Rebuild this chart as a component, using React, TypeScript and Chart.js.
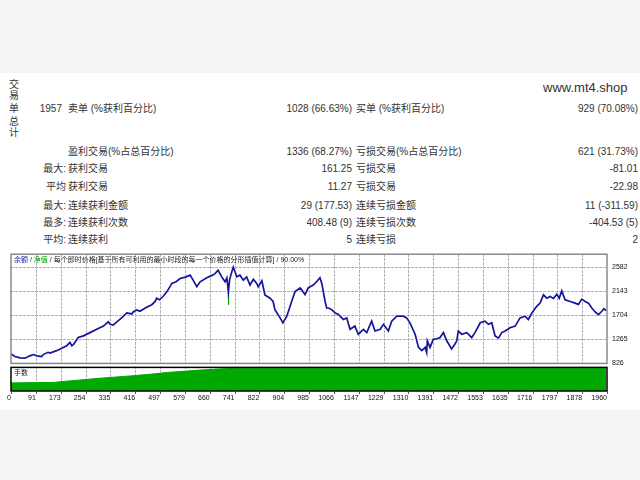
import React, { useEffect, useRef } from 'react';
import { Chart, registerables } from 'chart.js';

Chart.register(...registerables);

// ---------- summary table ----------
const sideTitle = ['交', '易', '单', '总', '计'];
const totalTrades = '1957';
const rowLabelsA = ['', '', '最大:', '平均', '最大:', '最多:', '平均:'];
const rowLabelsB = ['卖单 (%获利百分比)', '盈利交易(%占总百分比)', '获利交易', '获利交易', '连续获利金额', '连续获利次数', '连续获利'];
const rowValuesC = ['1028 (66.63%)', '1336 (68.27%)', '161.25', '11.27', '29 (177.53)', '408.48 (9)', '5'];
const rowLabelsD = ['买单 (%获利百分比)', '亏损交易(%占总百分比)', '亏损交易', '亏损交易', '连续亏损金额', '连续亏损次数', '连续亏损'];
const rowValuesE = ['929 (70.08%)', '621 (31.73%)', '-81.01', '-22.98', '11 (-311.59)', '-404.53 (5)', '2'];
const siteText = 'www.mt4.shop';
const chartTitleParts = ['余额', ' / ', '净值', ' / 每个即时价格[基于所有可利用的最小时段的每一个价格的分形插值计算] / 90.00%'];
const lotPanelLabel = '手数';

// ---------- chart data ----------
const tradeIdx = [0,13,30,46,62,73,85,101,106,122,
  128,150,167,183,194,200,205,221,238,260,
  282,304,320,326,336,348,364,381,397,402,
  413,424,446,463,474,479,488,500,513,529,
  543,556,576,589,599,611,622,644,661,671,
  681,693,704,710,715,719,724,731,737,742,
  753,764,775,786,797,808,813,825,835,852,
  862,868,885,894,907,923,934,951,967,978,
  994,1005,1016,1022,1033,1038,1044,1055,1066,1076,
  1082,1093,1104,1115,1131,1142,1159,1170,1186,1197,
  1214,1225,1241,1252,1269,1290,1301,1312,1329,1340,
  1351,1362,1367,1369,1378,1389,1400,1411,1422,1433,
  1449,1460,1466,1471,1482,1499,1515,1526,1543,1559,
  1570,1581,1592,1603,1614,1625,1641,1658,1674,1691,
  1701,1713,1729,1740,1751,1762,1773,1784,1795,1803,
  1811,1822,1839,1855,1866,1877,1888,1899,1910,1921,
  1932,1943,1950,1957];
const balance = [1000,951,928,921,964,987,964,951,987,1028,
  1014,1058,1100,1148,1207,1148,1166,1296,1327,1386,
  1446,1505,1582,1536,1523,1582,1654,1743,1725,1761,
  1797,1774,1845,1893,1952,2011,1983,2042,2131,2280,
  2310,2369,2399,2430,2340,2221,2310,2382,2426,2458,
  2519,2399,2310,2382,2131,2346,2453,2578,2489,2399,
  2430,2340,2399,2251,2355,2280,2221,2328,2072,2011,
  1952,1804,1654,1564,1684,1952,2131,2197,2078,2203,
  2251,2310,2382,2280,1952,1833,1833,1804,1743,1720,
  1684,1625,1654,1446,1505,1357,1446,1386,1595,1416,
  1446,1536,1416,1595,1684,1684,1654,1564,1357,1117,
  1058,1117,1023,1237,1117,1268,1273,1296,1386,1237,
  1089,1178,1237,1416,1357,1386,1296,1386,1564,1595,
  1536,1564,1327,1286,1386,1416,1475,1505,1654,1684,
  1625,1743,1863,1922,2072,2011,2042,2006,2083,2011,
  2144,1983,1952,1922,1899,1994,1952,1922,1833,1761,
  1715,1774,1822,1786];
const equityIdx = [714, 715, 716];
const equity = [2200, 1890, 2200];
const lotIdx = [0, 140, 183, 238, 293, 348, 401, 457, 512, 566, 622, 674, 730, 1957];
const lots = [0.33, 0.35, 0.40, 0.46, 0.52, 0.57, 0.62, 0.68, 0.75, 0.80, 0.85, 0.89, 0.92, 0.92];
const xTickLabels = ['0','91','173','254','335','416','497','579','660','741','822','904','985','1066','1147','1229','1310','1391','1472','1553','1635','1716','1797','1878','1960'];
const yTickValues = [826, 1265, 1704, 2143, 2582];
const X_MAX = 1960;
const Y_MIN = 772;
const Y_MAX = 2811;

const FONT = "'Liberation Sans', 'Noto Sans CJK SC', sans-serif";
const GRID = '#b0b0b0';

function BalanceChart() {
  const ref = useRef<HTMLCanvasElement | null>(null);
  useEffect(() => {
    const canvas = ref.current;
    if (!canvas) return;
    const step = X_MAX / (xTickLabels.length - 1);
    const drawGrid = (chart: any) => {
      const ctx = chart.ctx;
      const ca = chart.chartArea;
      const xs = chart.scales.x;
      const ys = chart.scales.y;
      ctx.save();
      ctx.fillStyle = GRID;
      const top = Math.round(ca.top);
      const bottom = Math.round(ca.bottom);
      const left = Math.round(ca.left);
      const right = Math.round(ca.right);
      for (let i = 1; i < xTickLabels.length - 1; i++) {
        const px = Math.round(xs.getPixelForValue(i * step));
        for (let y = top; y < bottom; y += 4) ctx.fillRect(px, y, 1, 3);
      }
      for (let i = 1; i < yTickValues.length; i++) {
        const py = Math.round(ys.getPixelForValue(yTickValues[i]));
        for (let x = left; x < right; x += 4) ctx.fillRect(x, py, 3, 1);
      }
      ctx.restore();
    };
    const gridPlugin = {
      id: 'dashGrid',
      beforeDraw(chart: any) {
        const ctx = chart.ctx;
        ctx.save();
        ctx.fillStyle = '#ffffff';
        ctx.fillRect(0, 0, chart.width, chart.height);
        ctx.restore();
      },
      afterDraw(chart: any) {
        const ctx = chart.ctx;
        const ca = chart.chartArea;
        const xs = chart.scales.x;
        const ys = chart.scales.y;
        const y2 = chart.scales.y2;
        const mainBottom = ys.getPixelForValue(yTickValues[0]);
        // dashed grid drawn under the datasets by using destination-over
        ctx.save();
        ctx.globalCompositeOperation = 'darken';
        drawGrid(chart);
        ctx.restore();
        ctx.save();
        ctx.fillStyle = '#ffffff';
        ctx.fillRect(ca.left, mainBottom, ca.right - ca.left, y2.top - mainBottom);
        ctx.strokeStyle = '#8a8a8a';
        ctx.lineWidth = 1.5;
        ctx.strokeRect(ca.left, ca.top, ca.right - ca.left, mainBottom - ca.top);
        ctx.strokeStyle = '#000000';
        ctx.lineWidth = 1.5;
        ctx.strokeRect(ca.left, y2.top + 1, ca.right - ca.left, ca.bottom - y2.top - 1);
        ctx.fillStyle = '#555555';
        for (let i = 0; i < xTickLabels.length; i++) {
          const px = Math.round(xs.getPixelForValue(i * step));
          ctx.fillRect(px, ca.bottom, 1, 3);
        }
        ctx.restore();
      },
    };
    const chart = new Chart(canvas, {
      type: 'line',
      data: {
        datasets: [
          {
            label: '余额',
            data: tradeIdx.map((x, i) => ({ x, y: balance[i] })),
            borderColor: '#14149c',
            borderWidth: 1.7,
            pointRadius: 0,
            tension: 0,
            yAxisID: 'y',
          },
          {
            label: '净值',
            data: equityIdx.map((x, i) => ({ x, y: equity[i] })),
            borderColor: '#00b000',
            borderWidth: 1.2,
            pointRadius: 0,
            yAxisID: 'y',
          },
          {
            label: '手数',
            data: lotIdx.map((x, i) => ({ x, y: lots[i] })),
            borderColor: '#00a800',
            backgroundColor: '#00a800',
            borderWidth: 1,
            pointRadius: 0,
            fill: 'origin',
            yAxisID: 'y2',
          },
        ],
      },
      options: {
        animation: false,
        responsive: false,
        maintainAspectRatio: false,
        layout: { padding: { top: 7, left: 11, right: 0, bottom: 0 } },
        plugins: { legend: { display: false }, tooltip: { enabled: false }, title: { display: false } },
        scales: {
          x: {
            type: 'linear',
            min: 0,
            max: X_MAX,
            position: 'bottom',
            afterBuildTicks: (s: any) => {
              s.ticks = xTickLabels.map((_, i) => ({ value: i * step }));
            },
            afterFit: (s: any) => { s.height = 19; },
            ticks: {
              callback: (_v: any, i: number) => xTickLabels[i],
              align: 'end',
              autoSkip: false,
              maxRotation: 0,
              padding: 0,
              color: '#111',
              font: { size: 7, family: FONT },
            },
            grid: { display: false, drawTicks: true, tickLength: 3 },
            border: { display: false },
          },
          y: {
            type: 'linear',
            position: 'right',
            stack: 'v',
            stackWeight: 114,
            min: Y_MIN,
            max: Y_MAX,
            afterBuildTicks: (s: any) => { s.ticks = yTickValues.map((v) => ({ value: v })); },
            afterFit: (s: any) => { s.width = 33; },
            ticks: { padding: 5, color: '#111', font: { size: 7, family: FONT }, callback: (v: any) => String(v) },
            grid: { display: false, drawTicks: false },
            border: { display: false },
          },
          y2: {
            type: 'linear',
            position: 'right',
            stack: 'v',
            stackWeight: 25,
            min: 0,
            max: 1,
            afterFit: (s: any) => { s.width = 33; },
            ticks: { display: false },
            grid: { display: false, drawTicks: false },
            border: { display: false },
          },
        },
      } as any,
      plugins: [gridPlugin],
    });
    return () => chart.destroy();
  }, []);
  return <canvas ref={ref} width={640} height={165} style={{ position: 'absolute', left: 0, top: 245, width: 640, height: 165 }} />;
}

const rowY = [109, 152, 169, 187, 206, 223, 240];
const sideY = [85, 96, 109, 122, 133];

function T({ x, y, right, children, size = 10, color = '#333' }: any) {
  const style: any = {
    position: 'absolute',
    top: y - 7,
    lineHeight: '14px',
    fontSize: size,
    fontFamily: FONT,
    color,
    whiteSpace: 'nowrap',
  };
  if (right !== undefined) {
    style.right = 640 - right;
    style.textAlign = 'right';
  } else {
    style.left = x;
  }
  return <div style={style}>{children}</div>;
}

export default function App() {
  return (
    <div style={{ position: 'fixed', left: 0, top: 0, width: 640, height: 480, background: '#f3f4f6', overflow: 'hidden' }}>
      <div style={{ position: 'absolute', left: 0, top: 73, width: 640, height: 333, background: '#ffffff' }} />
      {sideTitle.map((c, i) => (
        <T key={'s' + i} x={9} y={sideY[i]}>{c}</T>
      ))}
      <T right={62} y={rowY[0]}>{totalTrades}</T>
      <div style={{ position: 'absolute', left: 543, top: 80, fontSize: 13, lineHeight: '16px', fontFamily: FONT, color: '#333' }}>{siteText}</div>
      {rowY.map((y, i) => (
        <React.Fragment key={'r' + i}>
          {rowLabelsA[i] ? <T right={66} y={y}>{rowLabelsA[i]}</T> : null}
          <T x={68} y={y}>{rowLabelsB[i]}</T>
          <T right={352} y={y}>{rowValuesC[i]}</T>
          <T x={356} y={y}>{rowLabelsD[i]}</T>
          <T right={638} y={y}>{rowValuesE[i]}</T>
        </React.Fragment>
      ))}
      <BalanceChart />
      <div style={{ position: 'absolute', left: 14, top: 255, fontSize: 7, lineHeight: '9px', fontFamily: FONT, color: '#222', whiteSpace: 'nowrap' }}>
        <span style={{ color: '#1a1aa0' }}>{chartTitleParts[0]}</span>
        <span>{chartTitleParts[1]}</span>
        <span style={{ color: '#00a000' }}>{chartTitleParts[2]}</span>
        <span>{chartTitleParts[3]}</span>
      </div>
      <div style={{ position: 'absolute', left: 14, top: 368, fontSize: 7, lineHeight: '9px', fontFamily: FONT, color: '#222' }}>{lotPanelLabel}</div>
    </div>
  );
}
